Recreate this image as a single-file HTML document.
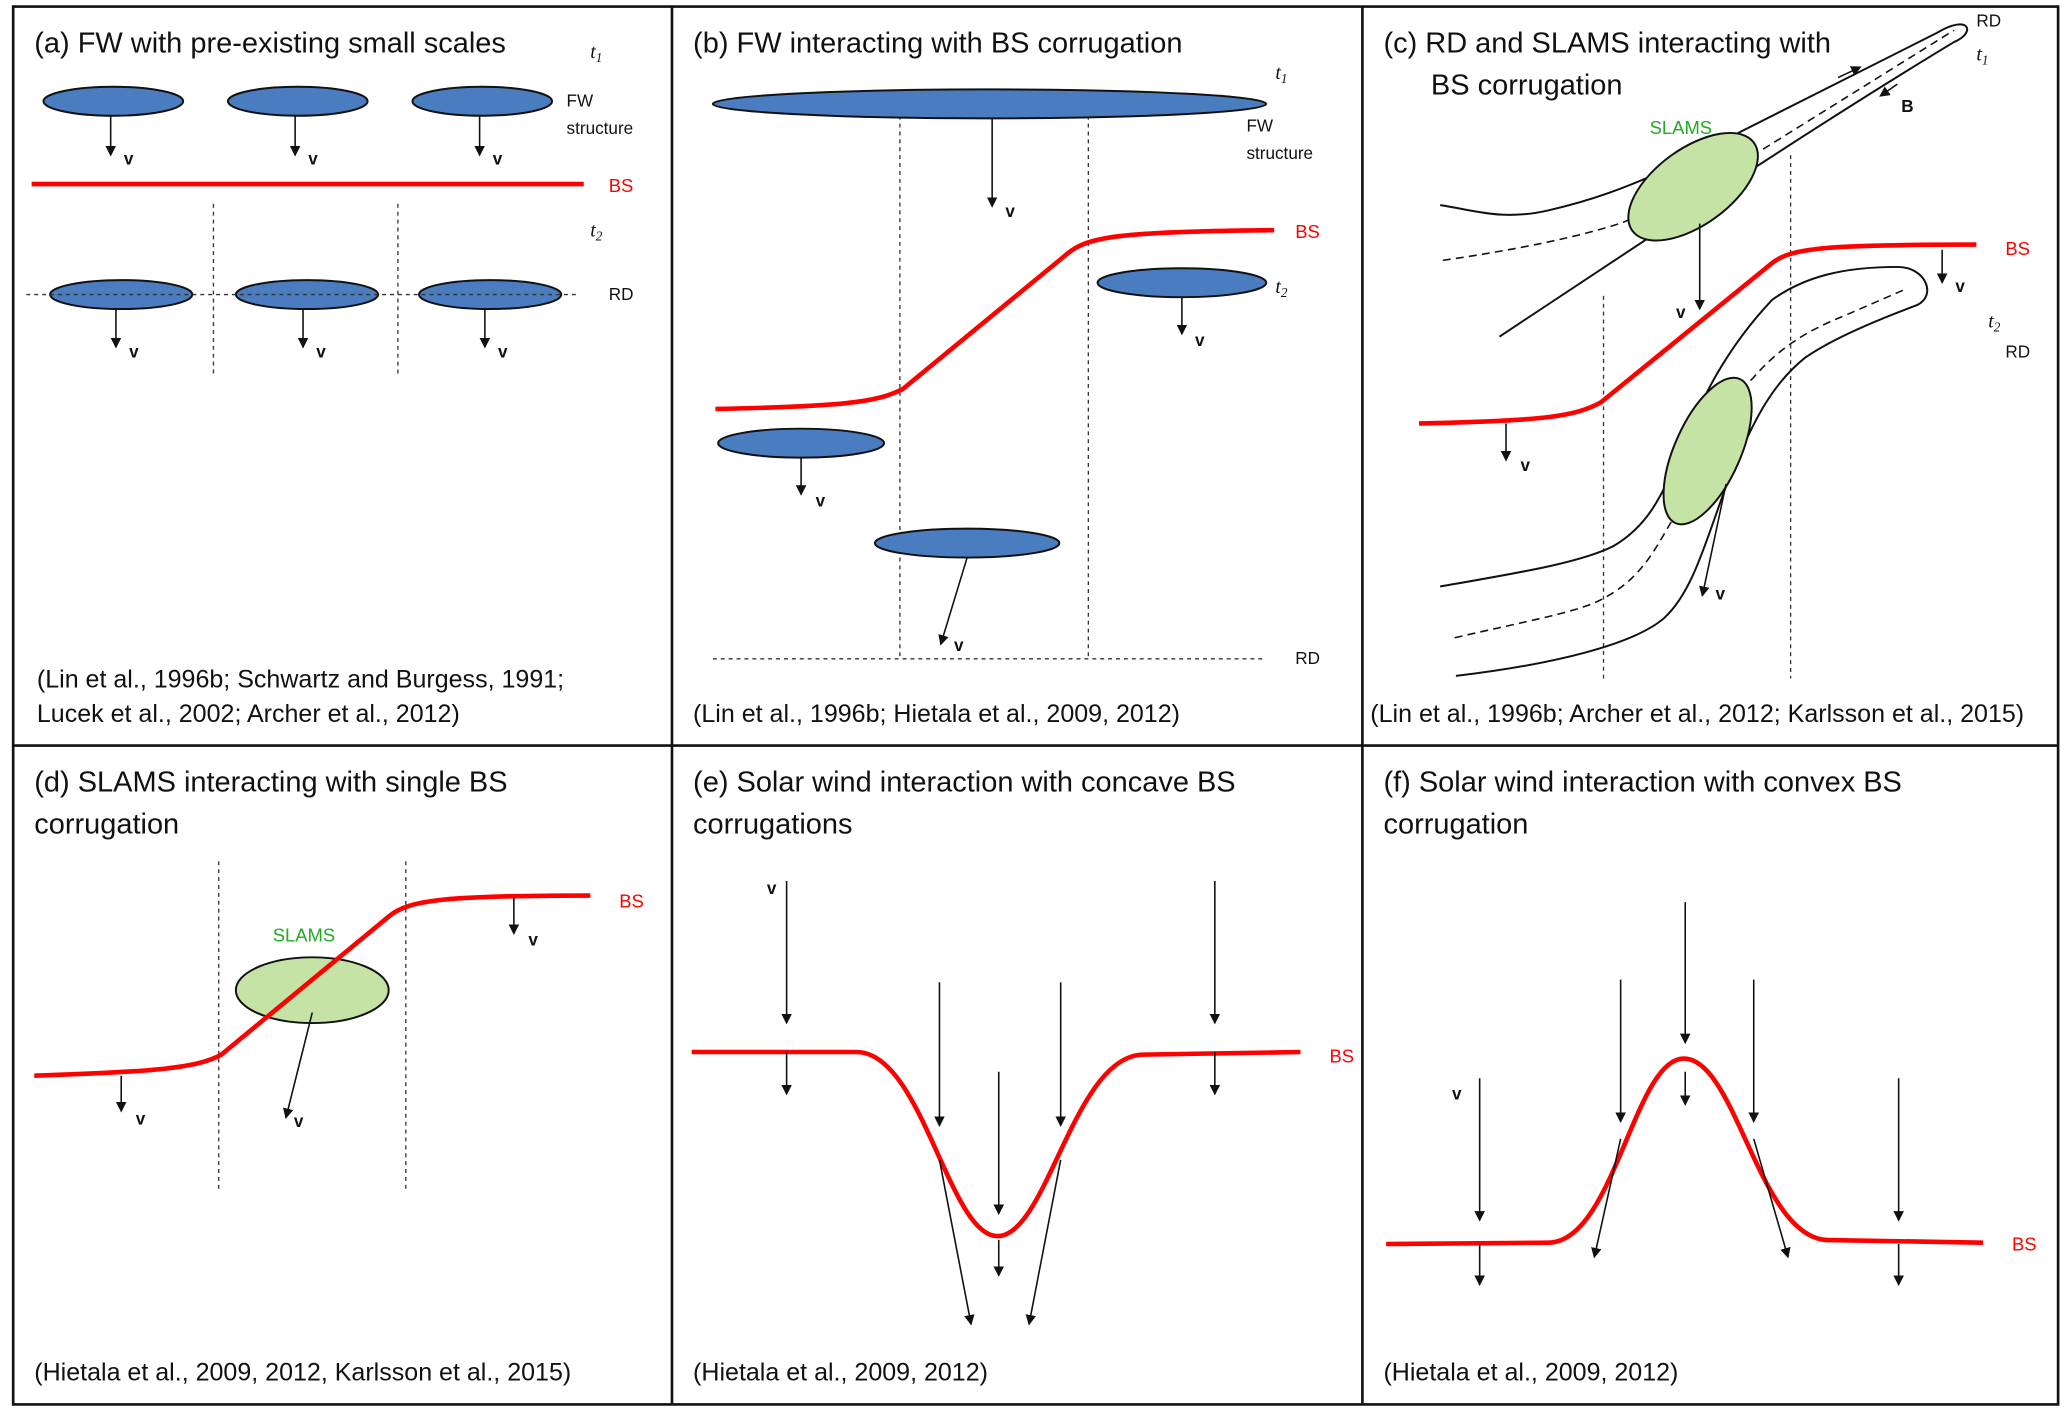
<!DOCTYPE html>
<html><head><meta charset="utf-8">
<style>
html,body{margin:0;padding:0;background:#fff;}
svg{display:block;}
text{font-family:"Liberation Sans","DejaVu Sans",sans-serif;}
.t{font-size:22px;fill:#111;}
.c{font-size:19px;fill:#111;}
.s{font-size:13px;fill:#111;}
.v{font-size:13px;font-weight:bold;fill:#111;}
.r{font-size:14px;fill:#f00;}
.g{font-size:14px;fill:#2a2;}
.i{font-family:"Liberation Serif",serif;font-style:italic;font-size:15px;fill:#111;}
.bs{fill:none;stroke:#f00;stroke-width:3.5;}
.el{fill:#4a7cc0;stroke:#111;stroke-width:1.5;}
.sl{fill:#c6e3a6;stroke:#111;stroke-width:1.5;}
.dv{stroke:#333;stroke-width:1;stroke-dasharray:3,3;fill:none;}
.dd{stroke:#111;stroke-width:1.2;stroke-dasharray:6,4;fill:none;}
.ar{stroke:#111;stroke-width:1.2;fill:none;marker-end:url(#ah);}
.ln{stroke:#111;stroke-width:1.5;fill:none;}
</style></head><body>
<svg width="2066" height="1411" viewBox="0 0 1568 1073" preserveAspectRatio="none" xmlns="http://www.w3.org/2000/svg">
<defs><marker id="ah" markerWidth="8" markerHeight="8" refX="7" refY="4" orient="auto" markerUnits="userSpaceOnUse"><path d="M0,0 L8,4 L0,8 z" fill="#111"/></marker></defs>
<rect x="0" y="0" width="1568" height="1073" fill="#fff"/>
<rect x="10" y="5" width="1552" height="1063" fill="none" stroke="#111" stroke-width="2"/>
<line x1="510" y1="5" x2="510" y2="1068" stroke="#111" stroke-width="2"/>
<line x1="1034" y1="5" x2="1034" y2="1068" stroke="#111" stroke-width="2"/>
<line x1="10" y1="567" x2="1562" y2="567" stroke="#111" stroke-width="2"/>

<!-- (a) -->
<text class="t" x="26" y="40">(a) FW with pre-existing small scales</text>
<text class="i" x="448" y="44">t<tspan font-size="10" dy="3">1</tspan></text>
<ellipse class="el" cx="86" cy="77" rx="53" ry="11"/>
<ellipse class="el" cx="226" cy="77" rx="53" ry="11"/>
<ellipse class="el" cx="366" cy="77" rx="53" ry="11"/>
<line class="ar" x1="84" y1="88" x2="84" y2="118"/><text class="v" x="94" y="125">v</text>
<line class="ar" x1="224" y1="88" x2="224" y2="118"/><text class="v" x="234" y="125">v</text>
<line class="ar" x1="364" y1="88" x2="364" y2="118"/><text class="v" x="374" y="125">v</text>
<text class="s" x="430" y="81">FW</text><text class="s" x="430" y="102">structure</text>
<line x1="24" y1="140" x2="443" y2="140" class="bs"/><text class="r" x="462" y="146">BS</text>
<text class="i" x="448" y="180">t<tspan font-size="10" dy="3">2</tspan></text>
<line class="dv" x1="162" y1="155" x2="162" y2="285"/><line class="dv" x1="302" y1="155" x2="302" y2="285"/>
<ellipse class="el" cx="92" cy="224" rx="54" ry="11"/>
<ellipse class="el" cx="233" cy="224" rx="54" ry="11"/>
<ellipse class="el" cx="372" cy="224" rx="54" ry="11"/>
<line class="dv" x1="20" y1="224" x2="440" y2="224"/>
<text class="s" x="462" y="228">RD</text>
<line class="ar" x1="88" y1="235" x2="88" y2="264"/><text class="v" x="98" y="272">v</text>
<line class="ar" x1="230" y1="235" x2="230" y2="264"/><text class="v" x="240" y="272">v</text>
<line class="ar" x1="368" y1="235" x2="368" y2="264"/><text class="v" x="378" y="272">v</text>
<text class="c" x="28" y="523">(Lin et al., 1996b; Schwartz and Burgess, 1991;</text>
<text class="c" x="28" y="549">Lucek et al., 2002; Archer et al., 2012)</text>

<!-- (b) -->
<text class="t" x="526" y="40">(b) FW interacting with BS corrugation</text>
<text class="i" x="968" y="60">t<tspan font-size="10" dy="3">1</tspan></text>
<line class="dv" x1="683" y1="88" x2="683" y2="500"/><line class="dv" x1="826" y1="88" x2="826" y2="500"/>
<ellipse class="el" cx="751" cy="79" rx="210" ry="11"/>
<text class="s" x="946" y="100">FW</text><text class="s" x="946" y="121">structure</text>
<line class="ar" x1="753" y1="90" x2="753" y2="157"/><text class="v" x="763" y="165">v</text>
<path class="bs" d="M543,311 C640,309 665,306 685,296 L810,193 C825,180 850,176 967,175"/>
<text class="r" x="983" y="181">BS</text>
<ellipse class="el" cx="897" cy="215" rx="64" ry="11"/>
<text class="i" x="968" y="223">t<tspan font-size="10" dy="3">2</tspan></text>
<line class="ar" x1="897" y1="226" x2="897" y2="254"/><text class="v" x="907" y="263">v</text>
<ellipse class="el" cx="608" cy="337" rx="63" ry="11"/>
<line class="ar" x1="608" y1="348" x2="608" y2="376"/><text class="v" x="619" y="385">v</text>
<ellipse class="el" cx="734" cy="413" rx="70" ry="11"/>
<line class="ar" x1="734" y1="424" x2="714" y2="490"/><text class="v" x="724" y="495">v</text>
<line class="dv" x1="541" y1="501" x2="958" y2="501"/><text class="s" x="983" y="505">RD</text>
<text class="c" x="526" y="549">(Lin et al., 1996b; Hietala et al., 2009, 2012)</text>

<!-- (c) -->
<text class="t" x="1050" y="40">(c) RD and SLAMS interacting with</text>
<text class="t" x="1086" y="72">BS corrugation</text>
<path class="ln" d="M1093,156 C1120,160 1140,168 1175,160 C1210,152 1235,142 1260,131 L1470,25 C1495,10 1500,25 1483,32 C1440,58 1380,96 1331,128 L1138,256"/>
<path class="dd" d="M1095,198 C1150,190 1200,180 1232,169 C1270,152 1300,134 1334,116 L1483,23"/>
<line class="ar" x1="1395" y1="59" x2="1412" y2="51"/>
<line class="ar" x1="1440" y1="64" x2="1427" y2="73"/>
<text class="s" x="1500" y="20">RD</text>
<text class="i" x="1500" y="46">t<tspan font-size="10" dy="3">1</tspan></text>
<text class="v" x="1443" y="85">B</text>
<ellipse class="sl" cx="1285" cy="142" rx="57" ry="29" transform="rotate(-36 1285 142)"/>
<text class="g" x="1252" y="102">SLAMS</text>
<line class="ar" x1="1290" y1="170" x2="1290" y2="235"/><text class="v" x="1272" y="242">v</text>
<line class="dv" x1="1217" y1="225" x2="1217" y2="516"/><line class="dv" x1="1359" y1="118" x2="1359" y2="516"/>
<path class="bs" d="M1077,322 C1170,320 1195,317 1215,306 L1345,200 C1360,188 1390,186 1500,186"/>
<text class="r" x="1522" y="194">BS</text>
<line class="ar" x1="1474" y1="190" x2="1474" y2="215"/><text class="v" x="1484" y="222">v</text>
<text class="i" x="1509" y="249">t<tspan font-size="10" dy="3">2</tspan></text>
<text class="s" x="1522" y="272">RD</text>
<line class="ar" x1="1143" y1="322" x2="1143" y2="350"/><text class="v" x="1154" y="358">v</text>
<path class="ln" d="M1093,446 C1150,436 1200,428 1225,415 C1250,400 1260,380 1275,345 C1290,305 1310,265 1345,228 C1370,210 1400,203 1440,203 C1462,203 1470,225 1455,232 C1420,245 1390,258 1370,272 C1345,292 1330,320 1310,370 C1295,410 1285,450 1263,470 C1240,490 1180,505 1105,514"/>
<path class="dd" d="M1104,485 C1160,472 1200,465 1217,455 C1245,440 1255,420 1270,394 C1290,350 1305,310 1330,288 C1350,265 1370,252 1400,240 L1446,220"/>
<ellipse class="sl" cx="1296" cy="343" rx="60" ry="25" transform="rotate(-66 1296 343)"/>
<line class="ar" x1="1310" y1="368" x2="1292" y2="453"/><text class="v" x="1302" y="456">v</text>
<text class="c" x="1040" y="549">(Lin et al., 1996b; Archer et al., 2012; Karlsson et al., 2015)</text>

<!-- (d) -->
<text class="t" x="26" y="602">(d) SLAMS interacting with single BS</text>
<text class="t" x="26" y="634">corrugation</text>
<line class="dv" x1="166" y1="655" x2="166" y2="905"/><line class="dv" x1="308" y1="655" x2="308" y2="905"/>
<ellipse class="sl" cx="237" cy="753" rx="58" ry="25"/>
<text class="g" x="207" y="716">SLAMS</text>
<path class="bs" d="M26,818 C120,815 150,812 168,802 L295,697 C310,684 340,681 448,681"/>
<text class="r" x="470" y="690">BS</text>
<line class="ar" x1="237" y1="770" x2="217" y2="850"/><text class="v" x="223" y="857">v</text>
<line class="ar" x1="390" y1="683" x2="390" y2="710"/><text class="v" x="401" y="719">v</text>
<line class="ar" x1="92" y1="818" x2="92" y2="845"/><text class="v" x="103" y="855">v</text>
<text class="c" x="26" y="1050">(Hietala et al., 2009, 2012, Karlsson et al., 2015)</text>

<!-- (e) -->
<text class="t" x="526" y="602">(e) Solar wind interaction with concave BS</text>
<text class="t" x="526" y="634">corrugations</text>
<path class="bs" d="M525,800 L650,800 C700,800 720,940 757,940 C795,940 815,802 868,802 L987,800"/>
<text class="r" x="1009" y="808">BS</text>
<text class="v" x="582" y="680">v</text>
<line class="ar" x1="597" y1="670" x2="597" y2="778"/><line class="ar" x1="597" y1="800" x2="597" y2="832"/>
<line class="ar" x1="713" y1="747" x2="713" y2="856"/><line class="ar" x1="713" y1="882" x2="737" y2="1007"/>
<line class="ar" x1="758" y1="815" x2="758" y2="923"/><line class="ar" x1="758" y1="943" x2="758" y2="970"/>
<line class="ar" x1="805" y1="747" x2="805" y2="856"/><line class="ar" x1="805" y1="882" x2="781" y2="1007"/>
<line class="ar" x1="922" y1="670" x2="922" y2="778"/><line class="ar" x1="922" y1="800" x2="922" y2="832"/>
<text class="c" x="526" y="1050">(Hietala et al., 2009, 2012)</text>

<!-- (f) -->
<text class="t" x="1050" y="602">(f) Solar wind interaction with convex BS</text>
<text class="t" x="1050" y="634">corrugation</text>
<path class="bs" d="M1052,946 L1175,945 C1225,945 1240,805 1278,805 C1318,805 1335,943 1388,943 L1505,945"/>
<text class="r" x="1527" y="951">BS</text>
<text class="v" x="1102" y="836">v</text>
<line class="ar" x1="1123" y1="820" x2="1123" y2="928"/><line class="ar" x1="1123" y1="946" x2="1123" y2="977"/>
<line class="ar" x1="1230" y1="745" x2="1230" y2="853"/><line class="ar" x1="1230" y1="866" x2="1210" y2="956"/>
<line class="ar" x1="1279" y1="686" x2="1279" y2="793"/><line class="ar" x1="1279" y1="815" x2="1279" y2="840"/>
<line class="ar" x1="1331" y1="745" x2="1331" y2="853"/><line class="ar" x1="1331" y1="866" x2="1357" y2="956"/>
<line class="ar" x1="1441" y1="820" x2="1441" y2="928"/><line class="ar" x1="1441" y1="946" x2="1441" y2="977"/>
<text class="c" x="1050" y="1050">(Hietala et al., 2009, 2012)</text>
</svg>
</body></html>
